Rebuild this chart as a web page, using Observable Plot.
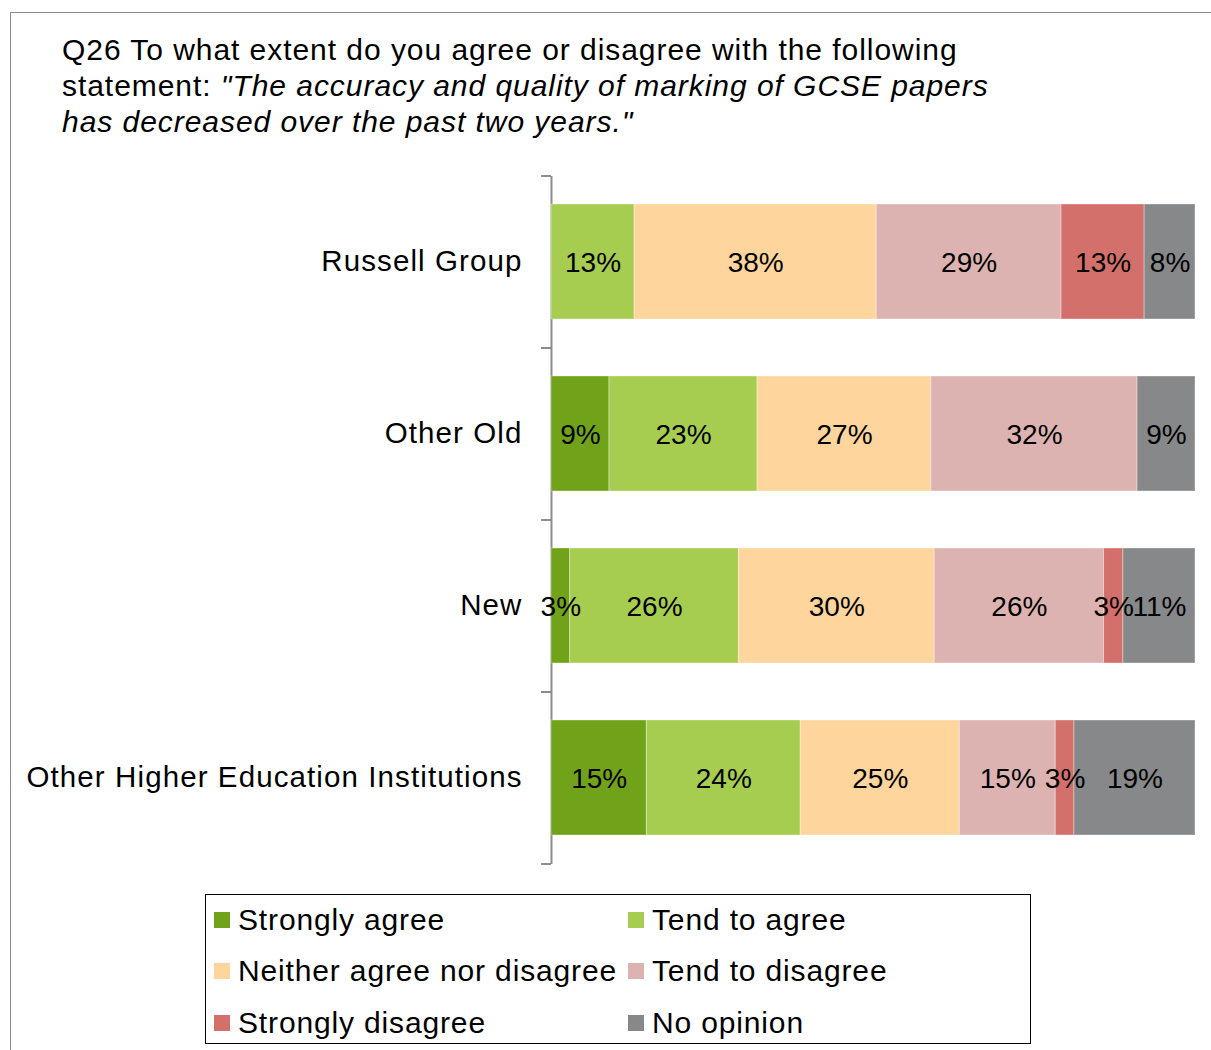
<!DOCTYPE html>
<html>
<head>
<meta charset="utf-8">
<script src="https://cdn.jsdelivr.net/npm/d3@7"></script>
<script src="https://cdn.jsdelivr.net/npm/@observablehq/plot@0.6"></script>
<style>
  html, body { margin: 0; padding: 0; background: #fff; }
  body { font-family: "Liberation Sans", Arial, sans-serif; color: #000; }
  #page { position: relative; width: 1211px; height: 1050px; overflow: hidden; }
  #frame { position: absolute; left: 10px; top: 12px; right: -2px; bottom: -2px;
           border-top: 1.5px solid #8c8c8c; border-left: 1.5px solid #8c8c8c; }
  #title { position: absolute; left: 62px; top: 32px; font-size: 30px; line-height: 36px;
           letter-spacing: 0.95px; white-space: nowrap; }
  #chart { position: absolute; left: 0; top: 0; }
  #legend { position: absolute; left: 205px; top: 894px; width: 826px; height: 150px;
            box-sizing: border-box; border: 1.5px solid #000; background: #fff; }
  .item { position: absolute; height: 30px; display: flex; align-items: center;
          font-size: 30px; letter-spacing: 0.85px; white-space: nowrap; }
  .sw { width: 16px; height: 16px; margin-right: 8px; flex: none; }
</style>
</head>
<body>
<div id="page">
  <div id="frame"></div>
  <div id="chart"></div>
  <div id="title">Q26 To what extent do you agree or disagree with the following<br>statement: <i>"The accuracy and quality of marking of GCSE papers<br>has decreased over the past two years."</i></div>
  <div id="legend"></div>
</div>
<script>
// ---- data ----
const groups = ["Russell Group", "Other Old", "New", "Other Higher Education Institutions"];
const categories = ["Strongly agree", "Tend to agree", "Neither agree nor disagree",
                    "Tend to disagree", "Strongly disagree", "No opinion"];
const colors = ["#71a31a", "#a6cd50", "#fdd59d", "#ddb3b1", "#d4706b", "#87888a"];

const stronglyAgree     = [0,    9.0,  2.9,  14.8];
const tendToAgree       = [12.9, 23.0, 26.2, 23.9];
const neither           = [37.6, 27.0, 30.4, 24.7];
const tendToDisagree    = [28.7, 32.0, 26.3, 14.9];
const stronglyDisagree  = [12.9, 0,    3.0,  2.9];
const noOpinion         = [7.9,  9.0,  11.2, 18.8];

const series = [stronglyAgree, tendToAgree, neither, tendToDisagree, stronglyDisagree, noOpinion];

const table = [];
groups.forEach((g, gi) => {
  categories.forEach((c, ci) => {
    const v = series[ci][gi];
    if (v > 0) table.push({group: g, category: c, value: v});
  });
});

// ---- chart ----
const chart = Plot.plot({
  width: 1211,
  height: 1050,
  marginLeft: 551,
  marginRight: 16,
  marginTop: 176,
  marginBottom: 186,
  style: {fontFamily: '"Liberation Sans", Arial, sans-serif', fontSize: "29.5px", color: "#000", background: "transparent", overflow: "visible"},
  x: {domain: [0, 100], axis: null},
  y: {domain: groups, paddingInner: 0.33, paddingOuter: 0.165, tickSize: 0, tickPadding: 29, label: null},
  color: {domain: categories, range: colors},
  marks: [
    Plot.ruleX([0], {stroke: "#8c8c8c", strokeWidth: 2}),
    Plot.barX(table, Plot.stackX({x: "value", y: "group", fill: "category", order: categories,
      stroke: "#ffffff", strokeOpacity: 0.35, strokeWidth: 1})),
    Plot.text(table, Plot.stackX({x: "value", y: "group", z: "category", order: categories,
      text: d => Math.round(d.value) + "%", fill: "#000", fontSize: 28, dy: 1}))
  ]
});
document.getElementById("chart").appendChild(chart);

// letter spacing for category labels
chart.querySelectorAll('[aria-label^="y-axis"] text').forEach(t => {
  t.style.letterSpacing = "1.1px";
  t.setAttribute("fill", "#000");
});

// band-boundary tick marks on the category axis
const ys = chart.scale("y");
const r0 = Math.min(...ys.range);
const svg = d3.select(chart);
const xs = chart.scale("x");
const x0 = xs.apply(0);
const bounds = d3.range(groups.length + 1).map(i => r0 + i * ys.step);
svg.append("g").selectAll("line").data(bounds).join("line")
  .attr("x1", x0 - 10).attr("x2", x0).attr("y1", d => d).attr("y2", d => d)
  .attr("stroke", "#8c8c8c").attr("stroke-width", 2);

// ---- legend ----
const legend = document.getElementById("legend");
categories.forEach((c, i) => {
  const col = i % 2, row = Math.floor(i / 2);
  const item = document.createElement("div");
  item.className = "item";
  item.style.left = (col ? 422 : 8) + "px";
  item.style.top = (9.5 + row * 51.5) + "px";
  const sw = document.createElement("span");
  sw.className = "sw";
  sw.style.background = colors[i];
  item.appendChild(sw);
  item.appendChild(document.createTextNode(c));
  legend.appendChild(item);
});
</script>
</body>
</html>
